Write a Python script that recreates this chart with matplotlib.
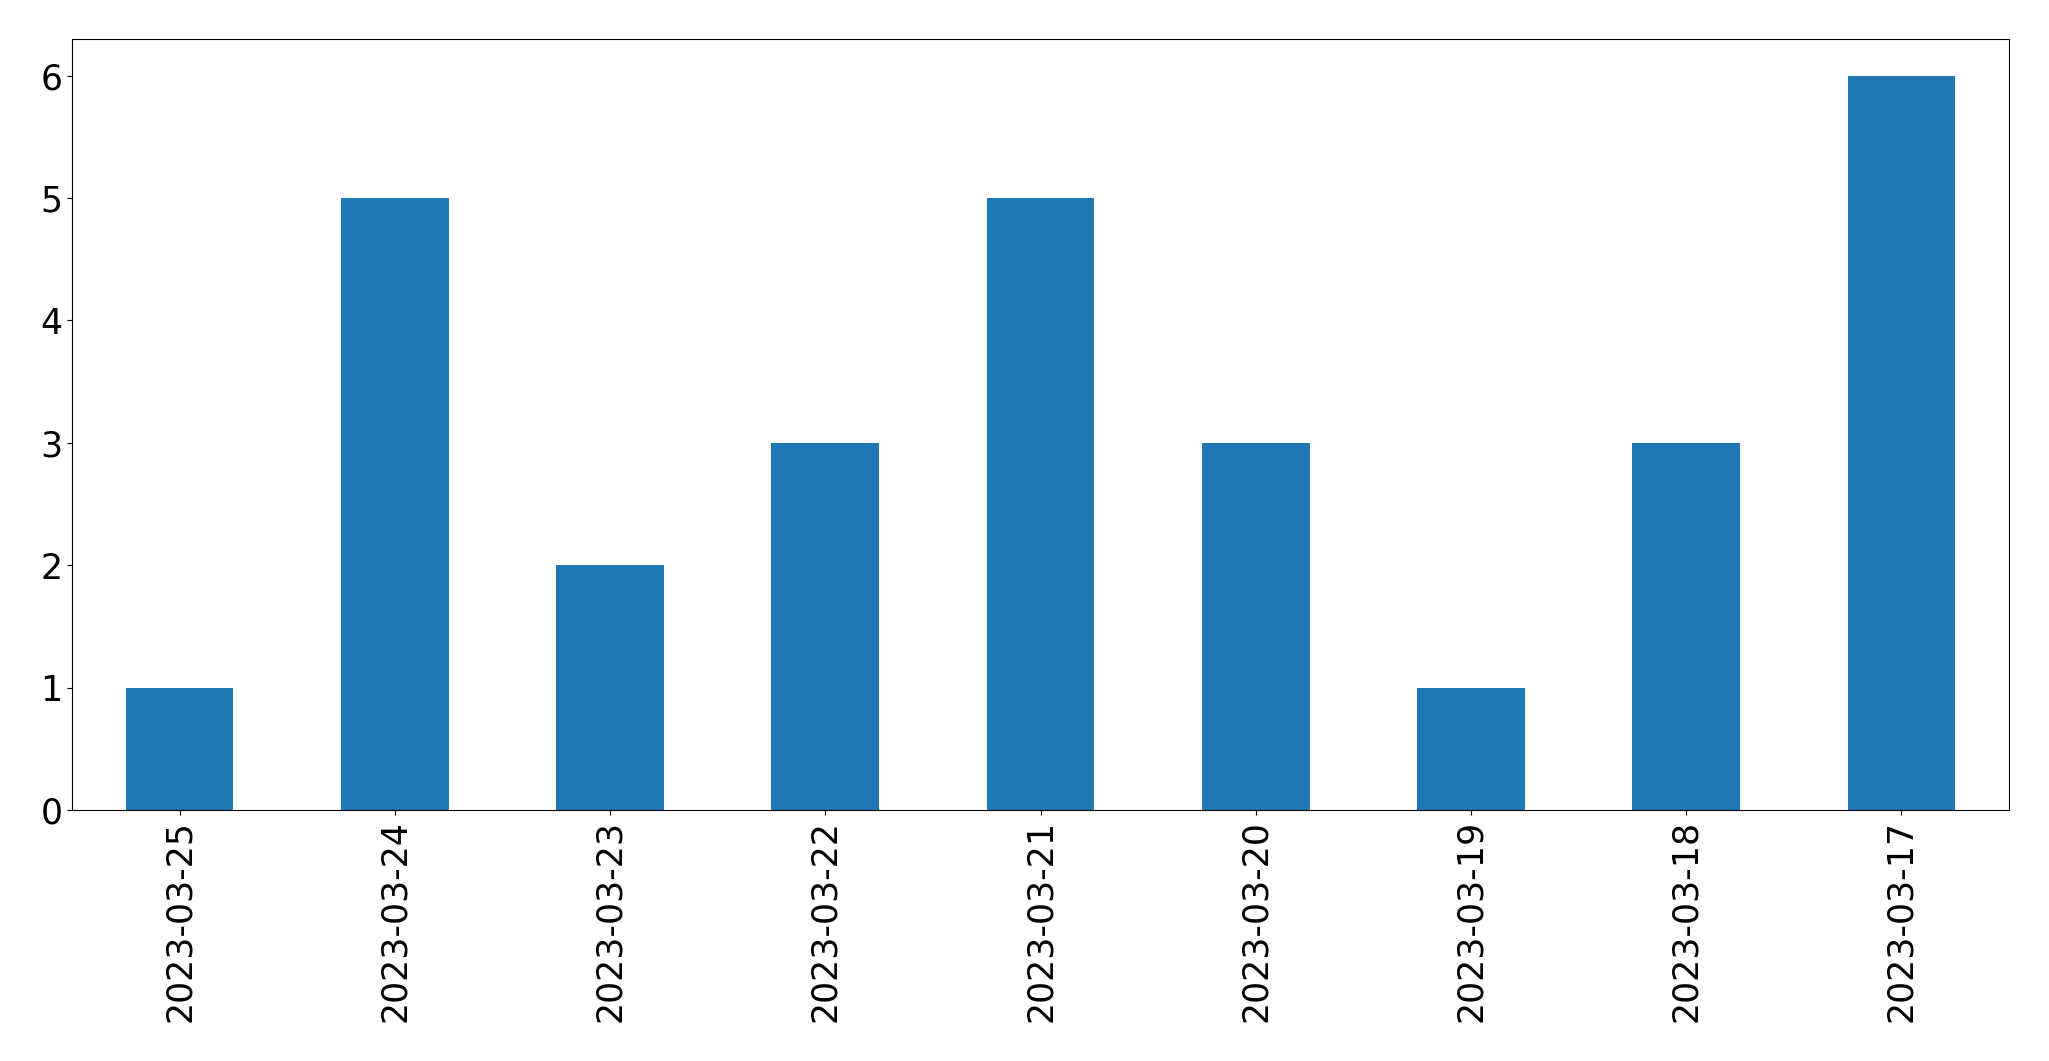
import matplotlib
matplotlib.use("Agg")
import matplotlib.pyplot as plt
import pandas as pd

dates = ["2023-03-25", "2023-03-24", "2023-03-23", "2023-03-22", "2023-03-21",
         "2023-03-20", "2023-03-19", "2023-03-18", "2023-03-17"]
counts = [1, 5, 2, 3, 5, 3, 1, 3, 6]

s = pd.Series(counts, index=dates)

fig = plt.figure(figsize=(20.49, 10.61), dpi=100)
ax = fig.add_axes([72 / 2049, 1 - 810 / 1061, (2009 - 72) / 2049, (810 - 39) / 1061])
s.plot(kind="bar", ax=ax, color="#1f77b4")
ax.tick_params(axis="both", labelsize=25)
fig.savefig("out.png", dpi=100)
